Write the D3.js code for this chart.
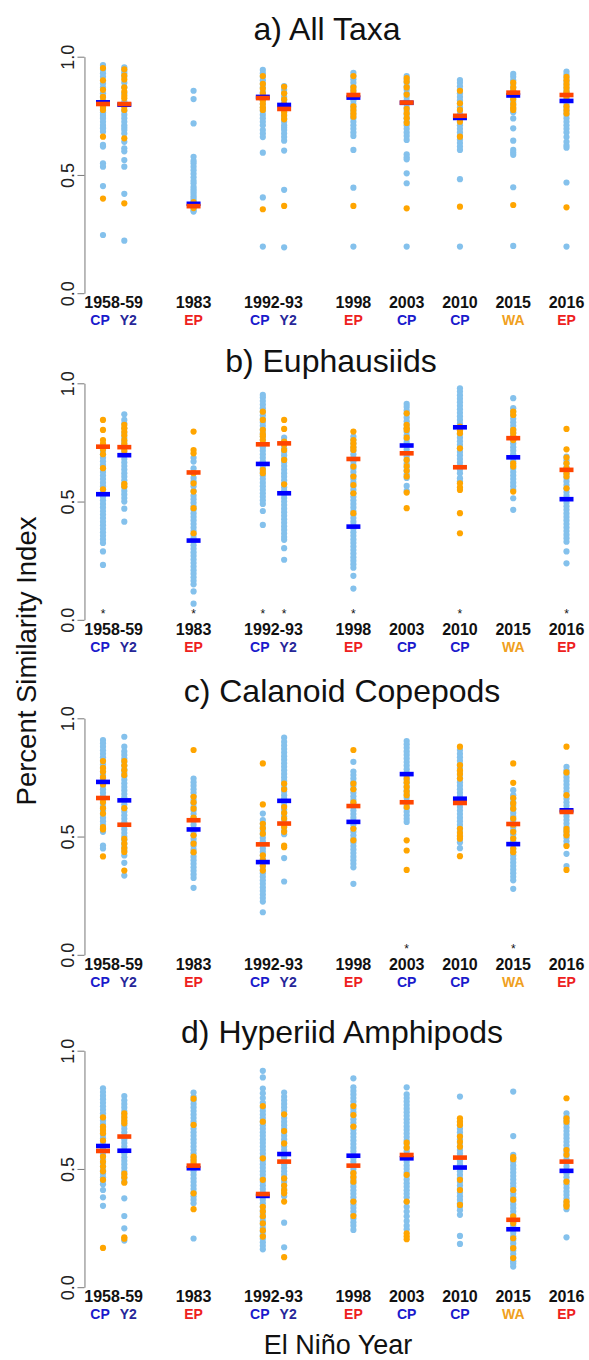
<!DOCTYPE html>
<meta charset="utf-8">
<style>
  body { margin: 0; background: #fff; }
  text { font-family: "Liberation Sans", Arial, sans-serif; }
</style>
<script src="https://d3js.org/d3.v7.min.js"></script>
<div id="my_dataviz"></div>
<script>
// columns (x in plot units) and labels
var colPos = [1, 1.4, 2.7, 4, 4.4, 5.7, 6.7, 7.7, 8.7, 9.7];
var typeLabels = ["CP", "Y2", "EP", "CP", "Y2", "EP", "CP", "CP", "WA", "EP"];
var yearLabels = ["1958-59", "1983", "1992-93", "1998", "2003", "2010", "2015", "2016"];
var yearPos = [1.2, 2.7, 4.2, 5.7, 6.7, 7.7, 8.7, 9.7];
var panelTitles = ["a) All Taxa", "b) Euphausiids", "c) Calanoid Copepods", "d) Hyperiid Amphipods"];
var yTicks = [0, 0.5, 1];

// a) All Taxa
var aBlue = [
  [0.965,0.945,0.93,0.915,0.887,0.87,0.845,0.83,0.817,0.80,0.789,0.775,0.765,0.754,0.745,0.739,0.725,0.711,0.70,0.697,0.683,0.627,0.62,0.549,0.535,0.453,0.246],
  [0.955,0.94,0.93,0.915,0.89,0.87,0.845,0.81,0.79,0.77,0.755,0.74,0.725,0.71,0.70,0.69,0.675,0.64,0.613,0.60,0.563,0.535,0.42,0.222],
  [0.856,0.821,0.718,0.577,0.56,0.55,0.535,0.52,0.505,0.49,0.475,0.465,0.45,0.44,0.43,0.42,0.41,0.40,0.39,0.38,0.37,0.36,0.35,0.345],
  [0.944,0.93,0.915,0.90,0.885,0.87,0.85,0.835,0.815,0.80,0.785,0.77,0.755,0.74,0.725,0.71,0.69,0.675,0.66,0.594,0.405,0.197],
  [0.876,0.86,0.845,0.83,0.815,0.80,0.785,0.77,0.755,0.74,0.725,0.71,0.70,0.69,0.675,0.66,0.645,0.603,0.437,0.194],
  [0.932,0.918,0.905,0.89,0.875,0.86,0.845,0.83,0.815,0.80,0.785,0.77,0.755,0.74,0.725,0.71,0.695,0.68,0.665,0.606,0.446,0.197],
  [0.918,0.905,0.89,0.875,0.86,0.845,0.83,0.815,0.80,0.785,0.77,0.755,0.74,0.725,0.71,0.695,0.68,0.665,0.648,0.587,0.575,0.566,0.507,0.465,0.197],
  [0.901,0.89,0.875,0.86,0.845,0.83,0.815,0.80,0.785,0.77,0.755,0.74,0.725,0.71,0.695,0.68,0.665,0.65,0.635,0.62,0.606,0.482,0.197],
  [0.927,0.915,0.90,0.885,0.87,0.855,0.84,0.825,0.81,0.795,0.78,0.765,0.739,0.697,0.645,0.606,0.595,0.585,0.448,0.20],
  [0.937,0.925,0.91,0.895,0.88,0.865,0.85,0.835,0.82,0.80,0.785,0.77,0.755,0.74,0.725,0.71,0.695,0.68,0.66,0.64,0.625,0.615,0.468,0.197]
];
var aOrange = [
  [0.952,0.90,0.86,0.83,0.81,0.785,0.775,0.662,0.40],
  [0.947,0.92,0.904,0.87,0.852,0.835,0.824,0.79,0.775,0.655,0.38],
  [0.385,0.37,0.36],
  [0.918,0.885,0.865,0.845,0.83,0.815,0.80,0.785,0.775,0.355],
  [0.873,0.845,0.82,0.80,0.78,0.765,0.75,0.735,0.369],
  [0.918,0.87,0.855,0.84,0.83,0.79,0.775,0.76,0.746,0.369],
  [0.91,0.895,0.87,0.84,0.78,0.76,0.74,0.72,0.359],
  [0.856,0.803,0.775,0.74,0.725,0.662,0.366],
  [0.89,0.87,0.855,0.84,0.82,0.80,0.785,0.775,0.373],
  [0.915,0.90,0.885,0.87,0.855,0.845,0.83,0.79,0.775,0.76,0.363]
];
var aBlueMean = [0.807, 0.797, 0.378, 0.830, 0.796, 0.827, 0.805, 0.741, 0.836, 0.813];
var aOrangeMean = [0.800, 0.800, 0.368, 0.825, 0.779, 0.838, 0.806, 0.750, 0.848, 0.838];

// b) Euphausiids
var bBlue = [
  [0.73,0.715,0.70,0.685,0.67,0.655,0.64,0.625,0.61,0.595,0.58,0.565,0.55,0.535,0.52,0.505,0.49,0.475,0.46,0.445,0.43,0.415,0.40,0.385,0.37,0.355,0.34,0.325,0.289,0.232],
  [0.869,0.845,0.83,0.81,0.79,0.77,0.755,0.74,0.725,0.71,0.695,0.68,0.665,0.65,0.635,0.62,0.605,0.59,0.575,0.56,0.545,0.53,0.515,0.50,0.47,0.415],
  [0.685,0.669,0.64,0.62,0.60,0.585,0.565,0.545,0.525,0.51,0.495,0.48,0.465,0.45,0.435,0.42,0.405,0.39,0.375,0.36,0.345,0.33,0.315,0.30,0.285,0.27,0.255,0.24,0.225,0.21,0.195,0.18,0.165,0.15,0.12,0.068],
  [0.951,0.94,0.925,0.91,0.895,0.88,0.865,0.85,0.835,0.82,0.805,0.79,0.775,0.76,0.745,0.73,0.715,0.70,0.685,0.67,0.655,0.64,0.625,0.61,0.595,0.58,0.565,0.55,0.535,0.52,0.505,0.49,0.46,0.401],
  [0.77,0.755,0.74,0.725,0.71,0.695,0.68,0.665,0.65,0.635,0.62,0.605,0.59,0.575,0.56,0.545,0.53,0.515,0.50,0.485,0.47,0.455,0.44,0.425,0.41,0.395,0.38,0.365,0.35,0.338,0.303,0.254],
  [0.775,0.76,0.745,0.73,0.715,0.70,0.685,0.67,0.655,0.64,0.625,0.61,0.595,0.58,0.565,0.55,0.535,0.52,0.505,0.49,0.475,0.46,0.445,0.43,0.415,0.40,0.385,0.37,0.355,0.34,0.325,0.31,0.295,0.28,0.265,0.25,0.235,0.22,0.186,0.132],
  [0.913,0.90,0.885,0.87,0.855,0.84,0.825,0.81,0.795,0.78,0.765,0.75,0.735,0.72,0.705,0.69,0.675,0.66,0.645,0.63,0.615,0.60,0.566,0.545],
  [0.979,0.965,0.95,0.935,0.92,0.905,0.89,0.875,0.86,0.845,0.83,0.815,0.80,0.785,0.77,0.755,0.74,0.725,0.71,0.695,0.68,0.665,0.65,0.635,0.62,0.599,0.585],
  [0.937,0.895,0.88,0.865,0.85,0.835,0.82,0.805,0.79,0.775,0.76,0.745,0.73,0.715,0.70,0.685,0.67,0.655,0.64,0.625,0.61,0.595,0.58,0.565,0.55,0.514,0.465],
  [0.69,0.675,0.66,0.645,0.63,0.615,0.60,0.585,0.57,0.555,0.54,0.525,0.51,0.495,0.48,0.465,0.45,0.435,0.42,0.405,0.39,0.375,0.36,0.345,0.33,0.289,0.239]
];
var bOrange = [
  [0.845,0.803,0.76,0.745,0.72,0.70,0.641,0.552],
  [0.824,0.81,0.795,0.78,0.76,0.745,0.73,0.715,0.575,0.565],
  [0.796,0.718,0.704,0.62,0.577,0.542,0.472,0.366],
  [0.88,0.845,0.803,0.785,0.775,0.76,0.634,0.62],
  [0.845,0.807,0.754,0.74,0.718,0.676,0.573],
  [0.796,0.76,0.745,0.73,0.718,0.648,0.606,0.57,0.535,0.451],
  [0.873,0.824,0.81,0.803,0.77,0.676,0.65,0.63,0.606,0.538,0.472],
  [0.817,0.80,0.789,0.725,0.577,0.56,0.549,0.451,0.366],
  [0.88,0.866,0.803,0.79,0.775,0.76,0.662,0.648,0.542],
  [0.807,0.721,0.686,0.662,0.64,0.62,0.606,0.556]
];
var bBlueMean = [0.531, 0.696, 0.335, 0.659, 0.535, 0.394, 0.737, 0.814, 0.687, 0.510];
var bOrangeMean = [0.732, 0.730, 0.623, 0.742, 0.746, 0.680, 0.704, 0.645, 0.768, 0.634];
var bStars = [0, 2, 3, 4, 5, 7, 9];

// c) Calanoid Copepods
var cBlue = [
  [0.908,0.895,0.88,0.865,0.85,0.835,0.82,0.805,0.79,0.775,0.76,0.745,0.73,0.715,0.70,0.685,0.67,0.655,0.64,0.625,0.61,0.595,0.58,0.565,0.55,0.535,0.52,0.462,0.45],
  [0.922,0.88,0.86,0.845,0.83,0.815,0.80,0.785,0.77,0.755,0.74,0.725,0.71,0.695,0.68,0.665,0.65,0.635,0.62,0.605,0.59,0.575,0.56,0.545,0.53,0.515,0.50,0.485,0.47,0.455,0.44,0.42,0.389,0.335],
  [0.745,0.73,0.715,0.70,0.685,0.67,0.655,0.64,0.625,0.61,0.595,0.58,0.565,0.55,0.535,0.52,0.505,0.49,0.475,0.46,0.445,0.43,0.415,0.40,0.385,0.37,0.355,0.34,0.325,0.283],
  [0.597,0.57,0.555,0.54,0.525,0.51,0.495,0.48,0.465,0.45,0.435,0.42,0.405,0.39,0.375,0.36,0.345,0.33,0.315,0.30,0.285,0.27,0.255,0.24,0.225,0.18],
  [0.918,0.90,0.885,0.87,0.855,0.84,0.825,0.81,0.795,0.78,0.765,0.75,0.735,0.72,0.705,0.69,0.675,0.66,0.645,0.63,0.615,0.60,0.585,0.57,0.555,0.54,0.525,0.51,0.409,0.31],
  [0.816,0.775,0.76,0.745,0.73,0.715,0.70,0.685,0.67,0.655,0.64,0.625,0.61,0.595,0.58,0.565,0.55,0.535,0.52,0.505,0.49,0.475,0.46,0.445,0.43,0.415,0.40,0.385,0.37,0.30],
  [0.904,0.89,0.875,0.86,0.845,0.83,0.815,0.80,0.785,0.77,0.755,0.74,0.725,0.71,0.695,0.68,0.665,0.65,0.635,0.62,0.605,0.59,0.575,0.562],
  [0.866,0.85,0.835,0.82,0.805,0.79,0.775,0.76,0.745,0.73,0.715,0.70,0.685,0.67,0.655,0.64,0.625,0.61,0.595,0.58,0.565,0.55,0.535,0.52,0.505,0.49,0.475,0.451],
  [0.696,0.675,0.66,0.645,0.63,0.615,0.60,0.585,0.57,0.555,0.54,0.525,0.51,0.495,0.48,0.465,0.45,0.435,0.42,0.405,0.39,0.375,0.36,0.345,0.33,0.315,0.279],
  [0.795,0.78,0.765,0.75,0.735,0.72,0.705,0.69,0.675,0.66,0.645,0.63,0.615,0.60,0.585,0.57,0.555,0.54,0.525,0.51,0.495,0.48,0.465,0.427,0.375]
];
var cOrange = [
  [0.819,0.79,0.774,0.75,0.72,0.646,0.62,0.597,0.54,0.53,0.416],
  [0.819,0.80,0.78,0.76,0.62,0.49,0.47,0.45,0.435,0.356],
  [0.866,0.668,0.645,0.618,0.58,0.505,0.47,0.434],
  [0.809,0.636,0.554,0.535,0.512,0.42,0.40,0.375,0.356],
  [0.724,0.70,0.625,0.60,0.576,0.54,0.52,0.462,0.455],
  [0.866,0.724,0.70,0.645,0.533,0.484],
  [0.745,0.73,0.71,0.69,0.675,0.625,0.484,0.441,0.359],
  [0.88,0.802,0.78,0.765,0.745,0.533,0.515,0.50,0.491,0.417],
  [0.809,0.727,0.663,0.64,0.618,0.576,0.55,0.52,0.491,0.448,0.434],
  [0.88,0.771,0.675,0.533,0.52,0.505,0.46,0.359]
];
var cBlueMean = [0.731, 0.653, 0.530, 0.392, 0.651, 0.562, 0.764, 0.660, 0.468, 0.611];
var cOrangeMean = [0.663, 0.550, 0.569, 0.467, 0.555, 0.629, 0.645, 0.642, 0.553, 0.604];
var cStars = [6, 8];

// d) Hyperiid Amphipods
var dBlue = [
  [0.841,0.825,0.81,0.795,0.78,0.765,0.75,0.735,0.72,0.705,0.69,0.675,0.66,0.645,0.63,0.615,0.60,0.585,0.57,0.555,0.54,0.525,0.51,0.495,0.48,0.465,0.45,0.435,0.411,0.38,0.344],
  [0.808,0.79,0.775,0.76,0.745,0.73,0.715,0.70,0.685,0.67,0.655,0.64,0.625,0.61,0.595,0.58,0.565,0.55,0.535,0.52,0.505,0.49,0.475,0.46,0.445,0.376,0.301,0.249,0.197],
  [0.823,0.805,0.79,0.775,0.76,0.745,0.73,0.715,0.70,0.685,0.67,0.655,0.64,0.625,0.61,0.595,0.58,0.565,0.55,0.535,0.52,0.505,0.49,0.475,0.46,0.445,0.43,0.415,0.40,0.385,0.37,0.355,0.206],
  [0.915,0.887,0.84,0.82,0.80,0.78,0.76,0.745,0.73,0.715,0.70,0.685,0.67,0.655,0.64,0.625,0.61,0.595,0.58,0.565,0.55,0.535,0.52,0.505,0.49,0.475,0.46,0.445,0.43,0.415,0.40,0.385,0.37,0.355,0.34,0.325,0.31,0.295,0.28,0.265,0.25,0.235,0.22,0.205,0.19,0.175,0.16],
  [0.823,0.805,0.79,0.775,0.76,0.745,0.73,0.715,0.70,0.685,0.67,0.655,0.64,0.625,0.61,0.595,0.58,0.565,0.55,0.535,0.52,0.505,0.49,0.475,0.46,0.445,0.43,0.415,0.40,0.385,0.273,0.169],
  [0.883,0.845,0.83,0.815,0.80,0.785,0.77,0.755,0.74,0.725,0.71,0.695,0.68,0.665,0.65,0.635,0.62,0.605,0.59,0.575,0.56,0.545,0.53,0.515,0.50,0.485,0.47,0.455,0.44,0.425,0.41,0.395,0.38,0.365,0.35,0.335,0.32,0.305,0.29,0.275,0.26,0.242],
  [0.845,0.815,0.80,0.785,0.77,0.755,0.74,0.725,0.71,0.695,0.68,0.665,0.65,0.635,0.62,0.605,0.59,0.575,0.56,0.545,0.53,0.515,0.50,0.485,0.47,0.455,0.44,0.425,0.41,0.395,0.38,0.36,0.34,0.32,0.30,0.28,0.26,0.245],
  [0.806,0.70,0.685,0.67,0.655,0.64,0.625,0.61,0.595,0.58,0.565,0.55,0.535,0.52,0.505,0.49,0.475,0.46,0.445,0.43,0.415,0.40,0.385,0.37,0.355,0.34,0.325,0.306,0.217,0.183],
  [0.827,0.639,0.56,0.545,0.53,0.515,0.50,0.485,0.47,0.455,0.44,0.425,0.41,0.395,0.38,0.365,0.35,0.335,0.32,0.305,0.29,0.275,0.26,0.245,0.23,0.215,0.20,0.185,0.17,0.155,0.14,0.125,0.11,0.10,0.087],
  [0.735,0.72,0.705,0.69,0.675,0.66,0.645,0.63,0.615,0.60,0.585,0.57,0.555,0.54,0.525,0.51,0.495,0.48,0.465,0.45,0.435,0.42,0.405,0.39,0.375,0.36,0.345,0.33,0.211]
];
var dOrange = [
  [0.718,0.679,0.665,0.651,0.62,0.552,0.53,0.51,0.49,0.454,0.166],
  [0.735,0.72,0.705,0.693,0.48,0.465,0.442,0.211,0.205],
  [0.797,0.686,0.552,0.538,0.525,0.397,0.33],
  [0.766,0.70,0.545,0.454,0.34,0.32,0.30,0.27,0.24,0.214],
  [0.731,0.66,0.608,0.46,0.43,0.41,0.397,0.362,0.127],
  [0.766,0.728,0.679,0.482,0.465,0.446,0.362,0.301],
  [0.611,0.59,0.475,0.362,0.228,0.215,0.203],
  [0.714,0.70,0.686,0.637,0.615,0.594,0.454,0.411,0.348],
  [0.55,0.541,0.411,0.37,0.30,0.27,0.207,0.165,0.123],
  [0.799,0.714,0.70,0.58,0.56,0.446,0.362,0.35,0.341]
];
var dBlueMean = [0.597, 0.577, 0.503, 0.386, 0.563, 0.556, 0.545, 0.506, 0.245, 0.492];
var dOrangeMean = [0.576, 0.637, 0.514, 0.394, 0.531, 0.514, 0.559, 0.548, 0.285, 0.531];

var panels = [
  {blue: aBlue, orange: aOrange, blueMean: aBlueMean, orangeMean: aOrangeMean, stars: []},
  {blue: bBlue, orange: bOrange, blueMean: bBlueMean, orangeMean: bOrangeMean, stars: bStars},
  {blue: cBlue, orange: cOrange, blueMean: cBlueMean, orangeMean: cOrangeMean, stars: cStars},
  {blue: dBlue, orange: dOrange, blueMean: dBlueMean, orangeMean: dOrangeMean, stars: []}
];

var typeColor = {CP: "#1a1acc", Y2: "#262699", EP: "#ee2020", WA: "#f0a020"};

var width = 589, height = 1360;
var panelTop = [56.7, 383.3, 718.3, 1050.7],
    panelH = 236.5,
    titleY = [40, 372, 702, 1043],
    titleX = [327, 331, 342, 342];

var svg = d3.select("#my_dataviz")
  .append("svg")
    .attr("width", width)
    .attr("height", height);

var x = d3.scaleLinear()
  .domain([1, 9.7])
  .range([103, 566.5]);
var axisX = x(0.652);

// paired sub-labels (CP / Y2) sit a little wider apart than their columns
function typeX(j) {
  var shift = 0;
  if (typeLabels[j] === "Y2") shift = 4;
  if (typeLabels[j + 1] === "Y2") shift = -3;
  return x(colPos[j]) + shift;
}

panels.forEach(function(p, i) {
  var y = d3.scaleLinear()
    .domain([0, 1])
    .range([panelTop[i] + panelH, panelTop[i]]);
  var g = svg.append("g");

  // y axis with rotated labels
  var yAxis = g.append("g")
    .attr("transform", "translate(" + axisX + ",0)")
    .call(d3.axisLeft(y).tickValues(yTicks).tickFormat(d3.format(".1f")).tickSize(7).tickSizeOuter(0));
  yAxis.select(".domain").attr("stroke", "#777");
  yAxis.selectAll(".tick line").attr("stroke", "#777");
  yAxis.selectAll(".tick text")
    .attr("x", null).attr("dy", null)
    .attr("transform", "translate(-10,0) rotate(-90)")
    .attr("text-anchor", "middle")
    .style("font-size", "18px")
    .style("font-family", '"Liberation Sans", Arial, sans-serif')
    .attr("fill", "#222");

  // title
  g.append("text")
    .attr("x", titleX[i])
    .attr("y", titleY[i])
    .attr("text-anchor", "middle")
    .style("font-size", "32px")
    .attr("fill", "#111")
    .text(panelTitles[i]);

  // dots: blue first, orange on top
  var blueDots = [], orangeDots = [];
  colPos.forEach(function(c, j) {
    p.blue[j].forEach(function(v) { blueDots.push({x: c, v: v}); });
    p.orange[j].forEach(function(v) { orangeDots.push({x: c, v: v}); });
  });
  g.selectAll(".bdot")
    .data(blueDots)
    .enter()
    .append("circle")
      .attr("cx", function(d) { return x(d.x); })
      .attr("cy", function(d) { return y(d.v); })
      .attr("r", 3.1)
      .attr("fill", "#84c1ec");
  g.selectAll(".odot")
    .data(orangeDots)
    .enter()
    .append("circle")
      .attr("cx", function(d) { return x(d.x); })
      .attr("cy", function(d) { return y(d.v); })
      .attr("r", 3.1)
      .attr("fill", "#ffa500");

  // mean bars
  [[p.blueMean, "#0000ff"], [p.orangeMean, "#ff4500"]].forEach(function(m) {
    g.selectAll(null)
      .data(m[0])
      .enter()
      .append("rect")
        .attr("x", function(d, j) { return x(colPos[j]) - 7; })
        .attr("y", function(d) { return y(d) - 2.3; })
        .attr("width", 14)
        .attr("height", 4.6)
        .attr("fill", m[1]);
  });

  // significance stars
  g.selectAll(".star")
    .data(p.stars)
    .enter()
    .append("text")
      .attr("x", function(j) { return x(colPos[j]); })
      .attr("y", y(0) - 2)
      .attr("text-anchor", "middle")
      .style("font-size", "12px")
      .attr("fill", "#111")
      .text("*");

  // x labels
  g.selectAll(".year")
    .data(yearLabels)
    .enter()
    .append("text")
      .attr("x", function(d, j) { return x(yearPos[j]); })
      .attr("y", y(0) + 15)
      .attr("text-anchor", "middle")
      .style("font-size", "16px")
      .style("font-weight", "bold")
      .attr("fill", "#111")
      .text(function(d) { return d; });
  g.selectAll(".type")
    .data(typeLabels)
    .enter()
    .append("text")
      .attr("x", function(d, j) { return typeX(j); })
      .attr("y", y(0) + 32)
      .attr("text-anchor", "middle")
      .style("font-size", "14px")
      .style("font-weight", "bold")
      .attr("fill", function(d) { return typeColor[d]; })
      .text(function(d) { return d; });
});

svg.append("text")
  .attr("transform", "translate(36,661) rotate(-90)")
  .attr("text-anchor", "middle")
  .style("font-size", "27.5px")
  .attr("fill", "#111")
  .text("Percent Similarity Index");

svg.append("text")
  .attr("x", 338)
  .attr("y", 1354)
  .attr("text-anchor", "middle")
  .style("font-size", "27px")
  .attr("fill", "#111")
  .text("El Niño Year");
</script>
